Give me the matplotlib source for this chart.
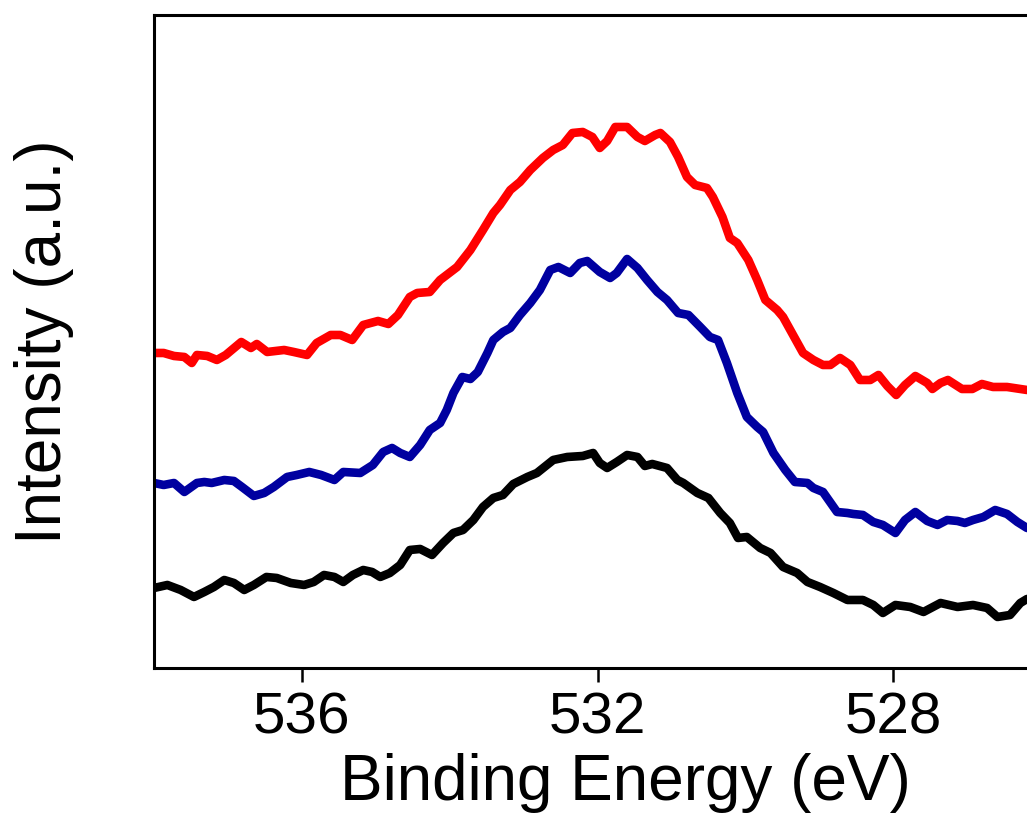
import numpy as np
import matplotlib.pyplot as plt

plt.rcParams['font.family'] = ['Liberation Sans', 'DejaVu Sans']

# O 1s spectra, binding energy (eV) vs intensity (a.u., stacked)
be_red = [538.00, 537.87, 537.73, 537.59, 537.49, 537.42, 537.28, 537.15, 537.03, 536.82,
          536.69, 536.61, 536.47, 536.24, 536.11, 535.93, 535.80, 535.61, 535.48, 535.32,
          535.17, 534.97, 534.83, 534.70, 534.54, 534.44, 534.27, 534.13, 533.90, 533.72,
          533.55, 533.41, 533.32, 533.18, 533.05, 532.91, 532.74, 532.60, 532.47, 532.34,
          532.20, 532.07, 531.97, 531.87, 531.76, 531.60, 531.46, 531.36, 531.22, 531.15,
          531.02, 530.91, 530.79, 530.68, 530.52, 530.44, 530.31, 530.21, 530.11, 529.96,
          529.84, 529.73, 529.57, 529.49, 529.37, 529.22, 529.08, 528.95, 528.85, 528.72,
          528.58, 528.45, 528.31, 528.20, 528.08, 527.96, 527.84, 527.70, 527.54, 527.47,
          527.36, 527.26, 527.07, 526.93, 526.80, 526.65, 526.46, 526.19]
int_red = [3.15, 3.15, 3.12, 3.11, 3.05, 3.13, 3.12, 3.08, 3.13, 3.26,
           3.20, 3.24, 3.16, 3.18, 3.16, 3.13, 3.25, 3.33, 3.33, 3.28,
           3.43, 3.47, 3.44, 3.53, 3.71, 3.75, 3.76, 3.88, 4.01, 4.18,
           4.38, 4.55, 4.63, 4.78, 4.86, 4.98, 5.10, 5.18, 5.23, 5.35,
           5.36, 5.31, 5.20, 5.27, 5.41, 5.41, 5.31, 5.27, 5.33, 5.35,
           5.26, 5.11, 4.91, 4.83, 4.80, 4.71, 4.51, 4.30, 4.25, 4.08,
           3.88, 3.68, 3.58, 3.51, 3.35, 3.15, 3.08, 3.03, 3.03, 3.10,
           3.03, 2.88, 2.88, 2.93, 2.82, 2.73, 2.83, 2.92, 2.85, 2.79,
           2.85, 2.88, 2.79, 2.79, 2.84, 2.81, 2.81, 2.78]

be_blue = [538.00, 537.87, 537.73, 537.59, 537.42, 537.32, 537.22, 537.05, 536.92, 536.81,
           536.65, 536.51, 536.38, 536.20, 536.07, 535.90, 535.74, 535.56, 535.44, 535.21,
           535.04, 534.90, 534.78, 534.67, 534.54, 534.40, 534.27, 534.13, 534.04, 533.95,
           533.83, 533.72, 533.62, 533.49, 533.41, 533.28, 533.18, 533.05, 532.91, 532.78,
           532.64, 532.53, 532.37, 532.24, 532.14, 531.97, 531.83, 531.74, 531.60, 531.46,
           531.33, 531.19, 531.06, 530.91, 530.77, 530.61, 530.48, 530.37, 530.25, 530.11,
           529.98, 529.84, 529.76, 529.62, 529.46, 529.33, 529.16, 529.08, 528.95, 528.76,
           528.62, 528.54, 528.41, 528.27, 528.14, 527.97, 527.84, 527.70, 527.54, 527.40,
           527.27, 527.13, 527.03, 526.92, 526.78, 526.62, 526.46, 526.32, 526.19]
int_blue = [1.85, 1.83, 1.85, 1.76, 1.85, 1.86, 1.85, 1.88, 1.87, 1.81,
            1.72, 1.75, 1.81, 1.91, 1.93, 1.96, 1.93, 1.88, 1.96, 1.95,
            2.03, 2.16, 2.20, 2.15, 2.11, 2.23, 2.38, 2.45, 2.58, 2.75,
            2.91, 2.89, 2.96, 3.15, 3.28, 3.36, 3.40, 3.53, 3.65, 3.78,
            3.98, 4.01, 3.95, 4.05, 4.07, 3.96, 3.90, 3.95, 4.09, 4.00,
            3.88, 3.76, 3.68, 3.55, 3.53, 3.41, 3.31, 3.28, 3.05, 2.75,
            2.51, 2.41, 2.36, 2.15, 1.98, 1.86, 1.85, 1.80, 1.76, 1.56,
            1.55, 1.54, 1.53, 1.46, 1.43, 1.35, 1.48, 1.56, 1.47, 1.43,
            1.48, 1.47, 1.45, 1.48, 1.51, 1.58, 1.54, 1.46, 1.40]

be_black = [538.00, 537.82, 537.64, 537.46, 537.32, 537.19, 537.05, 536.92, 536.78, 536.65,
            536.48, 536.34, 536.15, 535.97, 535.84, 535.70, 535.56, 535.44, 535.31, 535.17,
            535.05, 534.94, 534.81, 534.67, 534.54, 534.40, 534.24, 534.09, 533.95, 533.82,
            533.68, 533.55, 533.41, 533.28, 533.14, 532.95, 532.82, 532.60, 532.41, 532.20,
            532.06, 531.97, 531.87, 531.74, 531.60, 531.46, 531.36, 531.26, 531.06, 530.92,
            530.84, 530.65, 530.50, 530.34, 530.21, 530.10, 529.98, 529.80, 529.66, 529.49,
            529.30, 529.16, 528.99, 528.81, 528.62, 528.41, 528.27, 528.14, 527.97, 527.77,
            527.59, 527.36, 527.13, 526.92, 526.73, 526.59, 526.42, 526.28, 526.19]
int_black = [0.80, 0.83, 0.78, 0.71, 0.76, 0.81, 0.88, 0.85, 0.78, 0.83,
             0.91, 0.90, 0.85, 0.83, 0.86, 0.93, 0.91, 0.86, 0.93, 0.98,
             0.96, 0.91, 0.95, 1.03, 1.18, 1.19, 1.13, 1.25, 1.35, 1.38,
             1.48, 1.61, 1.70, 1.73, 1.84, 1.91, 1.95, 2.08, 2.11, 2.12,
             2.15, 2.05, 2.00, 2.06, 2.13, 2.11, 2.02, 2.04, 2.00, 1.88,
             1.85, 1.75, 1.70, 1.55, 1.45, 1.30, 1.31, 1.20, 1.15, 1.01,
             0.95, 0.86, 0.81, 0.75, 0.68, 0.68, 0.63, 0.55, 0.63, 0.61,
             0.56, 0.65, 0.61, 0.63, 0.60, 0.51, 0.53, 0.65, 0.69]

xticks = [536, 532, 528]

fig = plt.figure(figsize=(10.27, 8.19), dpi=100)
ax = fig.add_axes([0.150, 0.1844, 0.850, 0.7973])

ax.plot(be_black, int_black, color='black', lw=6.2, solid_joinstyle='round', solid_capstyle='round')
ax.plot(be_blue, int_blue, color='#0000A0', lw=6.2, solid_joinstyle='round', solid_capstyle='round')
ax.plot(be_red, int_red, color='#FF0000', lw=6.2, solid_joinstyle='round', solid_capstyle='round')

ax.set_xlim(538.0, 526.19)
ax.set_ylim(0, 6.53)
ax.set_xticks(xticks)
ax.set_xticklabels([str(t) for t in xticks])
ax.set_yticks([])

for side in ['left', 'top', 'bottom']:
    ax.spines[side].set_linewidth(2.2)
ax.spines['right'].set_visible(False)
ax.tick_params(axis='x', direction='out', length=10, width=1.8, labelsize=42, pad=7)

ax.set_xlabel('Binding Energy (eV)', fontsize=46)
ax.set_ylabel('Intensity (a.u.)', fontsize=46)
ax.xaxis.set_label_coords(0.54, -0.13)
ax.yaxis.set_label_coords(-0.092, 0.5)

fig.savefig('out.png', dpi=100)
